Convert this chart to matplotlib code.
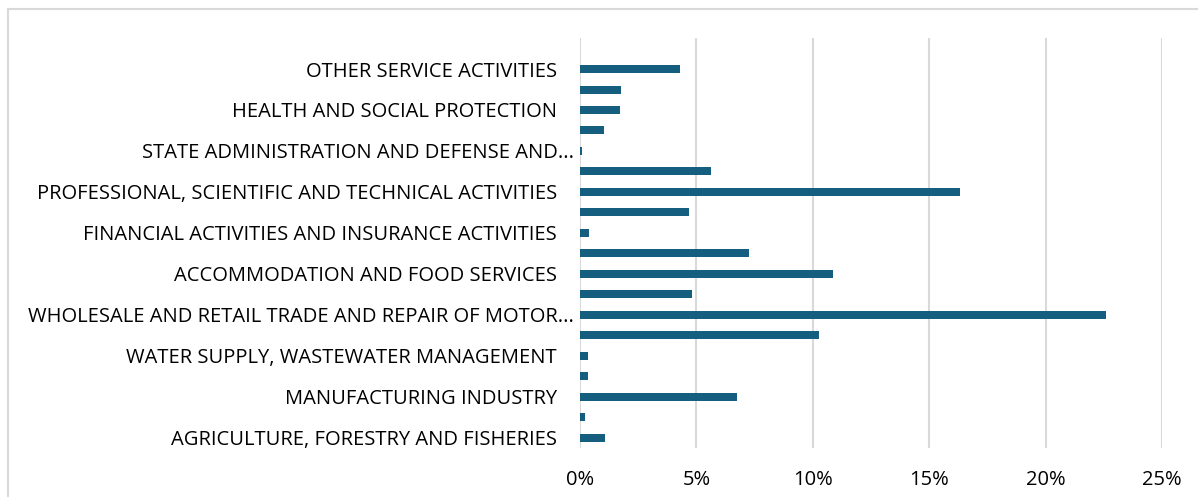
import matplotlib
matplotlib.use("Agg")
import matplotlib.pyplot as plt
from matplotlib.patches import Rectangle
from matplotlib.ticker import FuncFormatter
from matplotlib.transforms import ScaledTranslation

# Categories, bottom to top (as in the chart)
categories = [
    "AGRICULTURE, FORESTRY AND FISHERIES",
    "MINING AND QUARRYING",
    "MANUFACTURING INDUSTRY",
    "PRODUCTION AND DISTRIBUTION OF ELECTRICITY AND GAS",
    "WATER SUPPLY, WASTEWATER MANAGEMENT",
    "CONSTRUCTION",
    "WHOLESALE AND RETAIL TRADE AND REPAIR OF MOTOR...",
    "TRANSPORT, STORAGE AND POSTS",
    "ACCOMMODATION AND FOOD SERVICES",
    "CREATION AND DISSEMINATION OF INFORMATION",
    "FINANCIAL ACTIVITIES AND INSURANCE ACTIVITIES",
    "REAL ESTATE OPERATIONS",
    "PROFESSIONAL, SCIENTIFIC AND TECHNICAL ACTIVITIES",
    "ADMINISTRATIVE AND SUPPORT SERVICE ACTIVITIES",
    "STATE ADMINISTRATION AND DEFENSE AND...",
    "EDUCATION",
    "HEALTH AND SOCIAL PROTECTION",
    "CULTURE, SPORT AND ENTERTAINMENT",
    "OTHER SERVICE ACTIVITIES",
]
# Shares (%)
values = [1.07, 0.21, 6.74, 0.33, 0.33, 10.25, 22.6, 4.80, 10.87, 7.25,
          0.40, 4.70, 16.33, 5.62, 0.07, 1.03, 1.72, 1.78, 4.30]
# Only every other category label is shown on the axis
shown_every = 2
x_ticks = [0, 5, 10, 15, 20, 25]

plt.rcParams['font.family'] = ['Open Sans', 'DejaVu Sans']

fig = plt.figure(figsize=(11.98, 4.97), dpi=100)
ax = fig.add_axes([580 / 1198, 1 - 448 / 497, (1162 - 580) / 1198, (448 - 38.3) / 497])

ypos = list(range(len(categories)))
ax.barh(ypos, values, height=0.39, color="#165E80", zorder=3)

ax.set_xlim(0, 25)
ax.set_ylim(-0.5, len(categories) + 0.5)
ax.set_xticks(x_ticks)
ax.xaxis.set_major_formatter(FuncFormatter(lambda v, p: f"{v:.0f}%"))
ax.grid(axis="x", color="#d9d9d9", linewidth=1.5, zorder=0)
ax.set_yticks(ypos)
ax.set_yticklabels([c if i % shown_every == 0 else "" for i, c in enumerate(categories)])

for s in ax.spines.values():
    s.set_visible(False)
ax.tick_params(axis="both", length=0, labelsize=14.5, colors="black")
ax.tick_params(axis="y", pad=16.5)
ax.tick_params(axis="x", pad=15.5)

# truncated labels have their ellipsis hanging further right
for lab in ax.get_yticklabels():
    if lab.get_text().endswith("..."):
        lab.set_transform(lab.get_transform() + ScaledTranslation(17 / 100, 0, fig.dpi_scale_trans))

# outer chart frame
fig.patches.append(Rectangle((7.5 / 1198, -0.1), 1.2, 1.1 - 9 / 497,
                             transform=fig.transFigure, fill=False,
                             edgecolor="#d9d9d9", linewidth=1.5))

fig.savefig("out.png", dpi=100)
